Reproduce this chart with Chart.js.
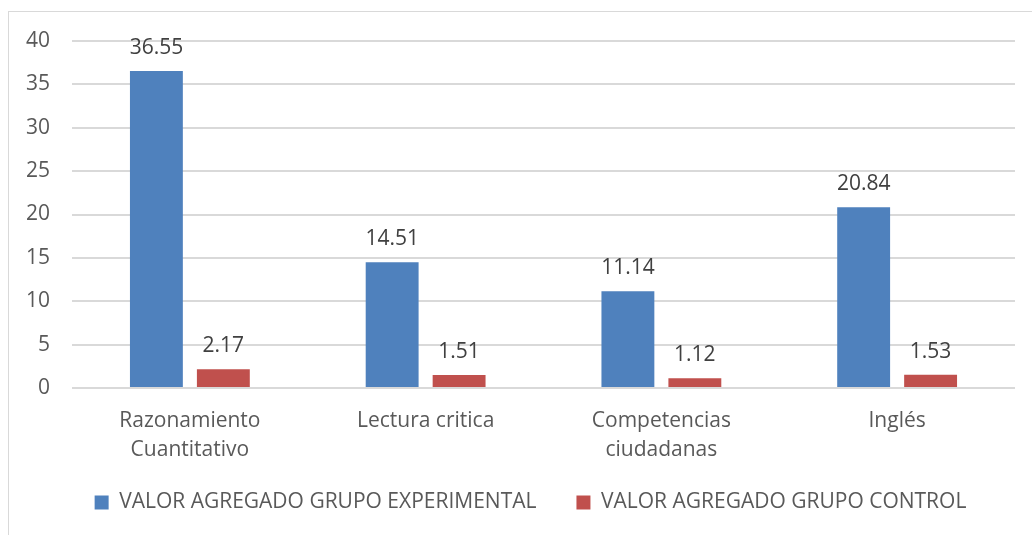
<!DOCTYPE html>
<html>
<head>
<meta charset="utf-8">
<script src="https://cdn.jsdelivr.net/npm/chart.js@4/dist/chart.umd.min.js"></script>
<style>
  html, body { margin: 0; padding: 0; background: #fff; }
  #wrap { position: relative; width: 1032px; height: 535px; overflow: hidden; }
  #frame { position: absolute; left: 8px; top: 11px; width: 1040px; height: 540px; border: 1px solid #d9d9d9; }
  canvas { position: absolute; left: 0; top: 0; }
</style>
</head>
<body>
<div id="wrap">
  <div id="frame"></div>
  <canvas id="chart" width="1032" height="535"></canvas>
</div>
<script>
const categories = [
  ["Razonamiento", "Cuantitativo"],
  "Lectura critica",
  ["Competencias", "ciudadanas"],
  "Inglés"
];
const experimental = [36.55, 14.51, 11.14, 20.84];
const control = [2.17, 1.51, 1.12, 1.53];
const yTicks = [0, 5, 10, 15, 20, 25, 30, 35, 40];

const FONT = "'Open Sans', sans-serif";
const SIZE = 21;

// draw the value above each bar
const valueLabels = {
  id: "valueLabels",
  afterLayout(chart) {
    // x labels are two lines tall, let them run past the fitted box
    chart.scales.x.bottom = chart.height;
    // legend sits a bit right of the canvas centre in the original
    chart.legend.left += 23;
    chart.legend.right += 23;
  },
  afterDatasetsDraw(chart) {
    const ctx = chart.ctx;
    ctx.save();
    ctx.font = SIZE + "px " + FONT;
    ctx.fillStyle = "#404040";
    ctx.textAlign = "center";
    ctx.textBaseline = "middle";
    chart.data.datasets.forEach((ds, i) => {
      chart.getDatasetMeta(i).data.forEach((bar, j) => {
        ctx.fillText(ds.data[j].toFixed(2), bar.x, bar.y - 23);
      });
    });
    ctx.restore();
  }
};

new Chart(document.getElementById("chart"), {
  type: "bar",
  data: {
    labels: categories,
    datasets: [
      {
        label: "VALOR AGREGADO GRUPO EXPERIMENTAL",
        data: experimental,
        backgroundColor: "#4f81bd",
        categoryPercentage: 0.568,
        barPercentage: 0.79
      },
      {
        label: "VALOR AGREGADO GRUPO CONTROL",
        data: control,
        backgroundColor: "#c0504d",
        categoryPercentage: 0.568,
        barPercentage: 0.79
      }
    ]
  },
  options: {
    responsive: false,
    animation: false,
    layout: { padding: { left: 0, right: 17, top: 41, bottom: 12 } },
    plugins: {
      tooltip: { enabled: false },
      legend: {
        position: "bottom",
        labels: {
          color: "#595959",
          font: { family: FONT, size: SIZE },
          boxWidth: 14,
          boxHeight: 14,
          padding: 40
        }
      }
    },
    scales: {
      x: {
        grid: { display: false },
        border: { display: false },
        ticks: {
          color: "#595959",
          font: { family: FONT, size: SIZE, lineHeight: 1.38 },
          padding: 11,
          maxRotation: 0
        },
        afterFit(scale) { scale.height = 64; }
      },
      y: {
        min: 0,
        max: 40,
        afterBuildTicks(scale) { scale.ticks = yTicks.map(v => ({ value: v })); },
        grid: { color: "#d9d9d9", lineWidth: 2, drawTicks: false },
        border: { display: false },
        ticks: {
          color: "#595959",
          font: { family: FONT, size: SIZE },
          padding: 22
        },
        afterFit(scale) { scale.width = 72; }
      }
    }
  },
  plugins: [valueLabels]
});
</script>
</body>
</html>
